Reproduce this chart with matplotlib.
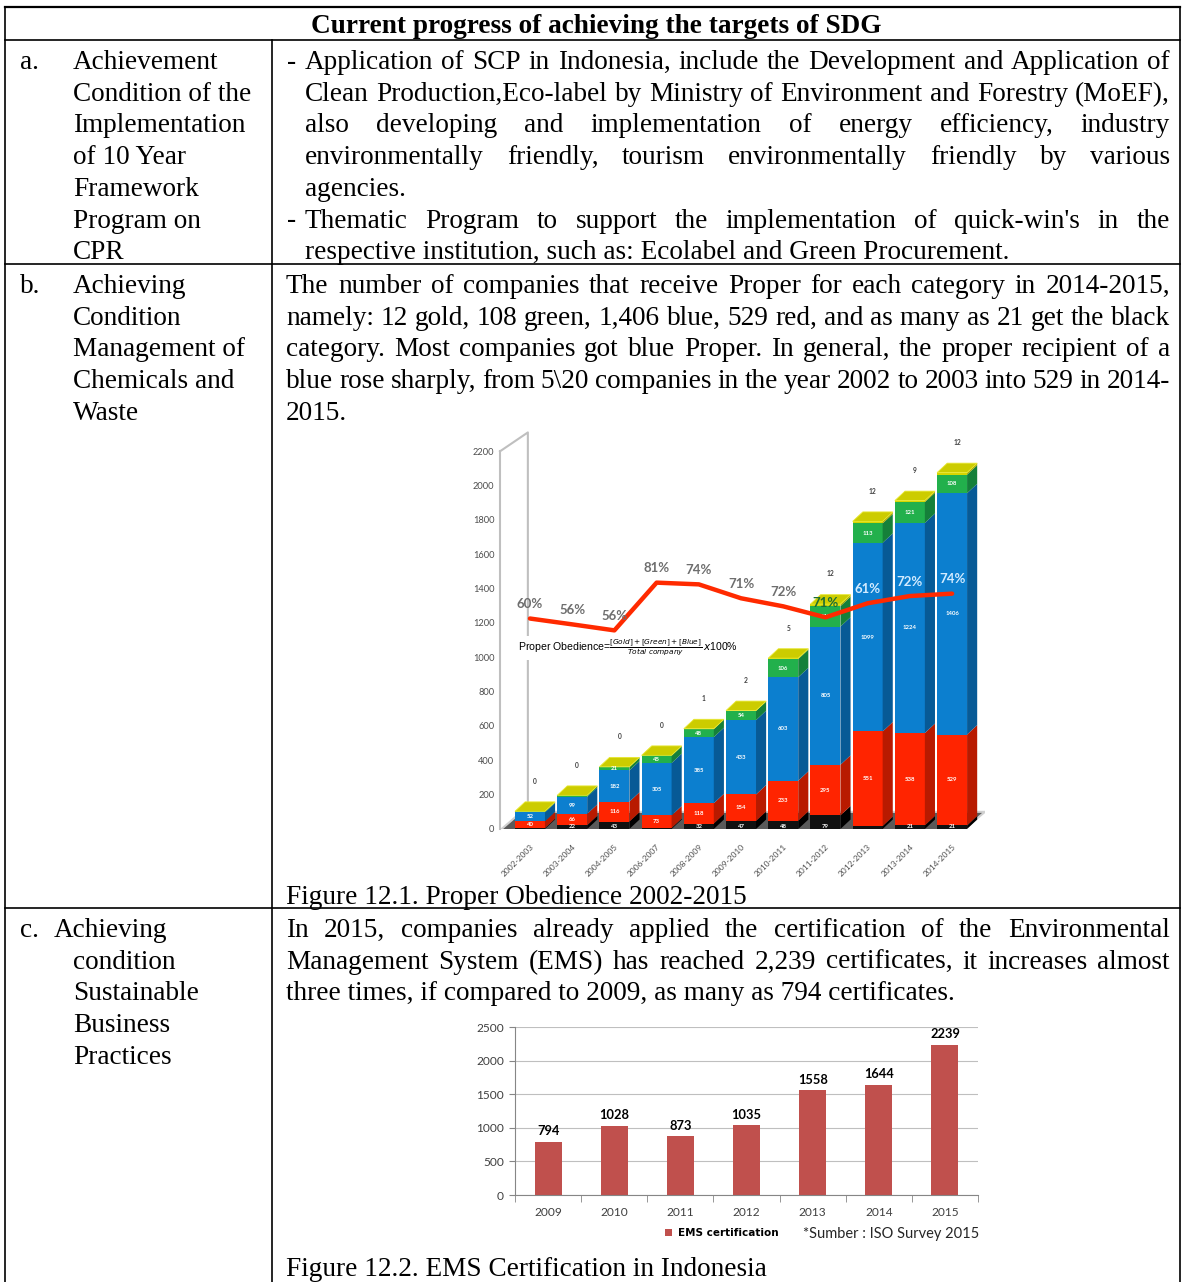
import matplotlib
matplotlib.use('Agg')
import matplotlib.pyplot as plt
from matplotlib.patches import Polygon

W, H = 1182, 1282

# ---- Figure 12.1 : Proper obedience 2002-2015 ----
periods = ['2002-2003', '2003-2004', '2004-2005', '2006-2007', '2008-2009', '2009-2010',
           '2010-2011', '2011-2012', '2012-2013', '2013-2014', '2014-2015']
black = [5, 22, 43, 6, 32, 47, 48, 79, 17, 21, 21]
red = [40, 66, 116, 73, 118, 154, 233, 295, 551, 538, 529]
blue = [52, 99, 182, 305, 385, 433, 603, 805, 1099, 1224, 1406]
green = [6, 9, 21, 45, 48, 54, 106, 119, 113, 121, 108]
gold = [0, 0, 0, 0, 1, 2, 5, 12, 12, 9, 12]
obedience = [60, 56, 56, 81, 74, 71, 72, 71, 61, 72, 74]
# height of the red obedience line as read on the left axis
line_level = [1226, 1192, 1157, 1435, 1425, 1344, 1297, 1233, 1315, 1357, 1371]

# ---- Figure 12.2 : EMS certification ----
years = ['2009', '2010', '2011', '2012', '2013', '2014', '2015']
ems = [794, 1028, 873, 1035, 1558, 1644, 2239]

SERIF = 'Liberation Serif'
FS = 19.6

fig = plt.figure(figsize=(W / 100, H / 100), dpi=100)
bg = fig.add_axes([0, 0, 1, 1])
bg.set_xlim(0, W)
bg.set_ylim(H, 0)
bg.axis('off')
renderer = fig.canvas.get_renderer()


def line_text(s, x, y, **kw):
    return bg.text(x, y, s, family=SERIF, fontsize=FS, va='baseline', ha='left', **kw)


def justify(s, x0, x1, y):
    words = s.split()
    texts = [line_text(w, 0, y) for w in words]
    widths = [t.get_window_extent(renderer).width for t in texts]
    gap = (x1 - x0 - sum(widths)) / (len(words) - 1)
    x = x0
    for t, w in zip(texts, widths):
        t.set_x(x)
        x += w + gap


def px_axes(l, r, b, t):
    return fig.add_axes([l / W, 1 - b / H, (r - l) / W, (b - t) / H])


# table grid
lw = 1.2
bg.plot([5, 1180], [7, 7], color='black', lw=1.6)
bg.plot([5, 1180], [40, 40], color='black', lw=lw)
bg.plot([5, 1180], [264, 264], color='black', lw=lw)
bg.plot([5, 1180], [908, 908], color='black', lw=lw)
bg.plot([5, 5], [7, H], color='black', lw=lw)
bg.plot([1180, 1180], [7, H], color='black', lw=lw)
bg.plot([272, 272], [40, H], color='black', lw=lw)

bg.text(596, 33, 'Current progress of achieving the targets of SDG', family=SERIF,
        fontsize=FS, weight='bold', ha='center', va='baseline')

LS = 31.7
R = 1170

# row a
ya = 69
line_text('a.', 20, ya)
for k, s in enumerate(['Achievement', 'Condition of the', 'Implementation', 'of 10 Year',
                       'Framework', 'Program on', 'CPR']):
    line_text(s, 73, ya + k * LS)
line_text('-', 287, ya)
justify('Application of SCP in Indonesia, include the Development and Application of', 305, R, ya)
justify('Clean Production,Eco-label by Ministry of Environment and Forestry (MoEF),', 305, R, ya + LS)
justify('also developing and implementation of energy efficiency, industry', 305, R, ya + 2 * LS)
justify('environmentally friendly, tourism environmentally friendly by various', 305, R, ya + 3 * LS)
line_text('agencies.', 305, ya + 4 * LS)
line_text('-', 287, ya + 5 * LS)
justify("Thematic Program to support the implementation of quick-win's in the", 305, R, ya + 5 * LS)
line_text('respective institution, such as: Ecolabel and Green Procurement.', 305, ya + 6 * LS)

# row b
yb = 293
line_text('b.', 20, yb)
for k, s in enumerate(['Achieving', 'Condition', 'Management of', 'Chemicals and', 'Waste']):
    line_text(s, 73, yb + k * LS)
justify('The number of companies that receive Proper for each category in 2014-2015,', 286, R, yb)
justify('namely: 12 gold, 108 green, 1,406 blue, 529 red, and as many as 21 get the black', 286, R, yb + LS)
justify('category. Most companies got blue Proper. In general, the proper recipient of a', 286, R, yb + 2 * LS)
justify('blue rose sharply, from 5\\20 companies in the year 2002 to 2003 into 529 in 2014-', 286, R, yb + 3 * LS)
line_text('2015.', 286, yb + 4 * LS)
line_text('Figure 12.1. Proper Obedience 2002-2015', 286, 904)

# row c
yc = 937
line_text('c.', 20, yc)
line_text('Achieving', 54, yc)
for k, s in enumerate(['condition', 'Sustainable', 'Business', 'Practices']):
    line_text(s, 73, yc + (k + 1) * LS)
justify('In 2015, companies already applied the certification of the Environmental', 286, R, yc)
justify('Management System (EMS) has reached 2,239 certificates, it increases almost', 286, R, yc + LS)
line_text('three times, if compared to 2009, as many as 794 certificates.', 286, yc + 2 * LS)
line_text('Figure 12.2. EMS Certification in Indonesia', 286, 1276)

# ---------------- chart 1 ----------------
SANS = 'Lato'
ax1 = px_axes(500, 985, 829, 429)
ax1.patch.set_visible(False)
n = len(periods)
xs = list(range(n))
ax1.set_xlim(-0.71, 10.78)
ax1.set_ylim(0, 2330)
bw, dx, dy = 0.71, 0.24, 55

# floor
ax1.add_patch(Polygon([(-0.71, -8), (10.25, -8), (10.78, 100), (-0.2, 100)], closed=True,
                      facecolor='#5a5a5a', edgecolor='#d0d0d0', lw=1.5, zorder=0.6))
# back wall lines
ax1.plot([-0.71, -0.05, -0.05], [2200, 2310, 60], color='#bfbfbf', lw=1.5, zorder=0.5, clip_on=False)

segs = [(black, '#111111', '#000000'), (red, '#ff2400', '#b81a00'), (blue, '#0c7fcf', '#075a96'),
        (green, '#22b04c', '#15803a'), (gold, '#d6d600', '#a5a500')]
bottoms = [0] * n
for vals, c, cs in segs:
    ax1.bar(xs, vals, bw, bottom=bottoms, color=c, edgecolor='none', zorder=2)
    for i in xs:
        b, h = bottoms[i], vals[i]
        if h <= 0:
            continue
        xr = i + bw / 2
        ax1.add_patch(Polygon([(xr, b), (xr + dx, b + dy), (xr + dx, b + h + dy), (xr, b + h)],
                              closed=True, facecolor=cs, edgecolor='none', zorder=2))
        if vals is not gold and h >= 20:
            yy = b + h / 2 if vals is not black else b + 12
            ax1.text(i, yy, str(h), color='white', fontsize=4.3, ha='center', va='center',
                     family=SANS, weight='bold', zorder=3)
    bottoms = [bb + v for bb, v in zip(bottoms, vals)]

for i in xs:
    T = bottoms[i]
    xl, xr = i - bw / 2, i + bw / 2
    ax1.add_patch(Polygon([(xl, T), (xr, T), (xr + dx, T + dy), (xl + dx, T + dy)], closed=True,
                          facecolor='#cccc00', edgecolor='#e8e830', lw=0.6, zorder=2.5))
    ax1.text(i + dx / 2, T + dy + 100, str(gold[i]), fontsize=4.8, color='#404040', ha='center',
             va='bottom', family=SANS, weight='bold', zorder=3)

ax1.set_yticks(range(0, 2201, 200))
ax1.set_xticks(xs)
ax1.set_xticklabels(periods, rotation=45, ha='right', va='top', rotation_mode='anchor')
ax1.tick_params(length=0, labelsize=6.7, colors='#4d4d4d', pad=4)
ax1.tick_params(axis='x', labelsize=6, pad=10)
for lab in ax1.get_xticklabels() + ax1.get_yticklabels():
    lab.set_family(SANS)
for sp in ['top', 'right', 'bottom']:
    ax1.spines[sp].set_visible(False)
ax1.spines['left'].set_bounds(0, 2200)
ax1.spines['left'].set_color('#bfbfbf')
ax1.spines['left'].set_linewidth(1.5)

ax1.plot(xs, line_level, color='#ff2a00', lw=3.2, solid_capstyle='round', zorder=4)
pct_colors = ['#6e6e6e'] * 7 + ['#1c6e34', '#d2ebff', '#d2ebff', '#d2ebff']
for i, p in enumerate(obedience):
    ax1.annotate(f'{p}%', (i, line_level[i]), xytext=(0, 6), textcoords='offset points', ha='center',
                 va='bottom', fontsize=9.5, weight='bold', color=pct_colors[i], family=SANS, zorder=5)

ax1.text(518, 648, 'Proper Obedience=$\\frac{[Gold]+[Green]+[Blue]}{Total\\ company}\\,x$100%',
         transform=bg.transData, family='Liberation Sans', fontsize=7.6, ha='left', va='center',
         zorder=6, bbox=dict(facecolor='white', edgecolor='none', pad=1.5))

# ---------------- chart 2 ----------------
ax2 = px_axes(515, 978, 1195, 1027)
xe = list(range(len(years)))
bars = ax2.bar(xe, ems, 0.41, color='#c0504d', zorder=2)
ax2.set_xlim(-0.5, 6.5)
ax2.set_ylim(0, 2500)
ax2.set_yticks(range(0, 2501, 500))
ax2.set_xticks(xe)
ax2.set_xticklabels(years)
ax2.set_xticks([k - 0.5 for k in range(len(years) + 1)], minor=True)
ax2.tick_params(axis='x', which='major', length=0, pad=9)
ax2.tick_params(axis='x', which='minor', length=5, color='#868686')
ax2.tick_params(axis='y', length=4, color='#868686', pad=4)
ax2.tick_params(labelsize=8.6, labelcolor='#404040')
for lab in ax2.get_xticklabels() + ax2.get_yticklabels():
    lab.set_family(SANS)
ax2.grid(axis='y', color='#bfbfbf', lw=0.8, zorder=0)
for sp in ['top', 'right']:
    ax2.spines[sp].set_visible(False)
for sp in ['left', 'bottom']:
    ax2.spines[sp].set_color('#868686')
for k, v in enumerate(ems):
    ax2.text(k, v + 70, str(v), ha='center', va='bottom', fontsize=9.3, weight='bold', family=SANS)
ax2.legend([bars], ['EMS certification'], loc='center', bbox_to_anchor=(722, 1233),
           bbox_transform=bg.transData, frameon=False, handlelength=0.7, handleheight=0.7,
           handletextpad=0.6, prop={'family': 'Liberation Sans Narrow', 'size': 7.5, 'weight': 'bold'})
bg.text(803, 1234, '*Sumber : ISO Survey 2015', family=SANS, fontsize=10.5, ha='left', va='center',
        color='#262626')

fig.savefig('out.png', dpi=100)
